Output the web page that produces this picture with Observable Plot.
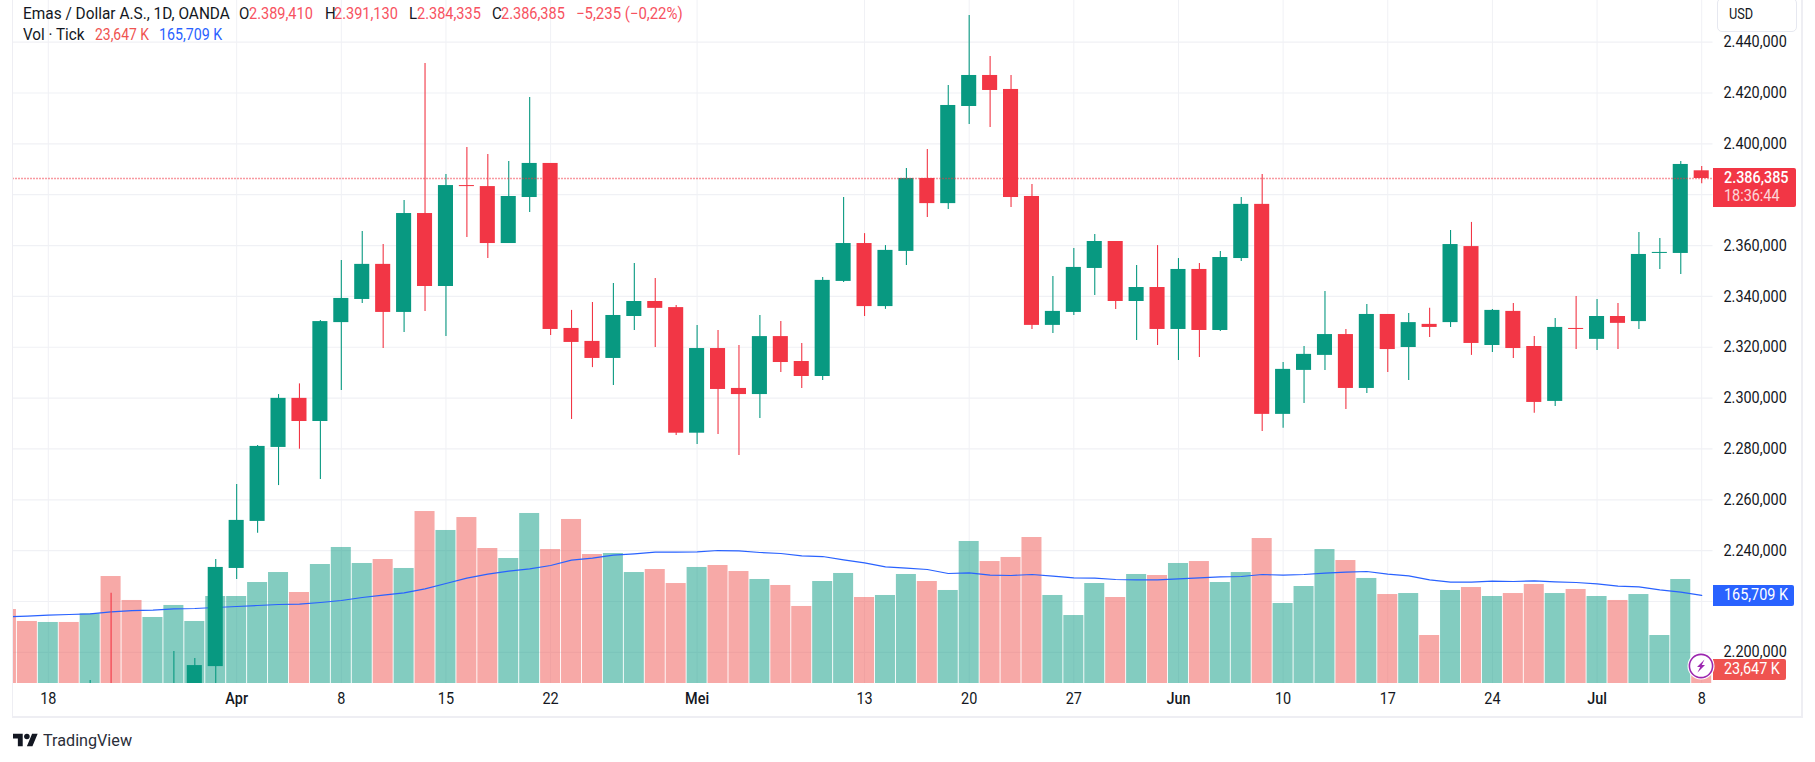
<!DOCTYPE html>
<html>
<head>
<meta charset="utf-8">
<script src="https://cdn.jsdelivr.net/npm/d3@7"></script>
<script src="https://cdn.jsdelivr.net/npm/@observablehq/plot@0.6"></script>
<style>
html,body{margin:0;padding:0;background:#fff;}
#wrap{position:relative;width:1815px;height:762px;overflow:hidden;font-family:Roboto,sans-serif;color:#131722;}
#wrap svg{display:block;}
.o{position:absolute;white-space:nowrap;line-height:1;transform-origin:left center;}
.hd{font-size:15.8px;}
.tag{position:absolute;left:1712.5px;color:#fff;font-size:16px;border-radius:0 2px 2px 0;}
.tag span{position:absolute;white-space:nowrap;line-height:1;transform:scaleX(.9);transform-origin:left center;}
</style>
</head>
<body>
<div id="wrap"></div>
<script>
// Trading-day index 0 is 18 March; the candle arrays start at index 2.
const firstCandle = 2;
const open = [2159,2186.2,2181,2165,2172,2178,2194.4,2233,2251.5,2280.6,2299.9,2290.8,2329.7,2338.8,2352.6,2333.7,2372.6,2343.9,2383.6,2383.2,2360.8,2378.9,2392.3,2327.4,2322.3,2315.6,2332.1,2338,2335.6,2286.2,2319.5,2303.8,2301.4,2324.2,2314.4,2308.5,2345.9,2360.8,2336,2357.7,2386.4,2376.5,2414.7,2426.9,2421.4,2379.3,2328.6,2333.7,2351,2361.6,2338,2343.5,2327,2350.6,2326.6,2354.9,2376.2,2293.6,2310.9,2316.8,2325,2303.8,2332.9,2319.9,2329,2329.7,2359.6,2320.7,2334.1,2320.3,2298.7,2327.4,2323.1,2332.1,2330.1,2356.9,2356.9,2389.41];
const high = [2188.9,2223.2,2184,2181,2200.3,2197.6,2236.5,2266,2281.4,2301.4,2305.6,2330.5,2354.1,2365.5,2360.4,2377.7,2431.6,2388,2398.6,2395.8,2393.1,2418.2,2392.3,2334.5,2337.6,2345.1,2352.9,2347,2336.4,2328.6,2326.6,2320.7,2332.5,2330.1,2321.5,2347.4,2378.9,2364.7,2360,2390.3,2397.8,2423,2450.5,2434.4,2426.9,2384,2347.8,2358.8,2364.4,2361.6,2352.2,2360,2354.9,2352.9,2357.7,2378.9,2388,2314,2320.3,2341.9,2327,2336.8,2332.9,2333.3,2335.3,2365.9,2369.1,2334.9,2337.2,2324.2,2331.3,2340,2338.8,2337.2,2365.1,2362.8,2393.1,2391.13];
const low = [2157,2168,2156,2164,2170,2172,2186,2228.7,2246.8,2265.6,2279.9,2268,2303,2337.2,2319.5,2325.8,2334.1,2324.2,2363.2,2354.9,2360.8,2373,2324.6,2291.6,2312,2305,2326.6,2319.9,2285.3,2281.8,2285.7,2277.4,2292,2310.1,2303.8,2306.9,2345.5,2332.1,2334.9,2352.2,2371,2374.2,2407.6,2406.4,2375,2327,2325.4,2332.5,2340.4,2334.9,2322.7,2320.7,2314.8,2316,2326.2,2353.7,2286.9,2288.1,2297.9,2310.9,2295.5,2301.8,2310.1,2306.9,2323.8,2327.8,2316.8,2317.9,2315.6,2294,2296.7,2319.1,2318.7,2319.1,2327,2350.6,2348.6,2384.335];
const close = [2186,2181.5,2165,2172,2179,2194.8,2233.4,2251.9,2281,2299.9,2290.8,2330.1,2339.2,2352.6,2333.7,2372.6,2343.9,2383.6,2383.2,2360.8,2379.3,2392.3,2327,2321.9,2315.6,2332.5,2338,2335.3,2286.2,2319.5,2303.4,2301.4,2324.2,2314,2308.5,2346.3,2360.8,2336,2358.1,2386.4,2376.5,2415.1,2426.9,2421,2378.9,2328.6,2334.1,2351.4,2361.6,2338,2343.5,2327,2350.6,2326.6,2355.3,2376.2,2293.6,2311.3,2317.2,2325,2303.8,2332.9,2319.1,2329.7,2327.8,2360.4,2321.5,2334.5,2319.5,2298.3,2327.8,2327,2332.1,2329.4,2356.5,2357.3,2391.9,2386.385];

// Volume in thousands of ticks; index starts two sessions before 18 March.
const firstVolume = -2;
const volume = [139.2,116.7,114.8,114.8,131.1,201.3,156.2,124.2,146.8,116.7,163.7,163.7,190,208.8,171.2,223.9,255.9,225.8,233.3,216.4,323.6,287.9,312.3,254,235.2,319.9,252.1,308.6,242.7,244.6,208.8,214.5,188.1,218.3,222,210.7,195.7,184.4,144.9,191.9,207,161.8,165.6,205.1,191.9,175,267.2,229.5,237.1,274.7,165.6,127.9,188.1,161.8,205.1,203.2,225.8,229.5,190,208.8,272.8,150.5,182.5,252.1,231.4,197.6,167.4,169.3,90.3,175,180.6,163.7,169.3,186.3,169.3,176.9,163.7,156.2,167.4,90.3,195.7,23.647];
const volumeMA = [125.4,126.7,128.6,129.8,131.1,134.8,137.3,138,140.5,141.1,143,144.9,146.8,148.6,149.3,152.4,156.2,161.8,166.2,170.6,178.1,188.1,198.2,205.7,211.3,215.7,222,232,235.8,241.5,244,247.1,247.1,247.7,250.2,249.6,246.5,244.6,240.2,238.9,232.7,227,219.5,217,214.5,207,208.2,203.8,203.2,205.1,201.9,198.8,198.2,195.7,195.1,195.1,196.9,198.8,200.7,201.3,205.1,203.8,205.1,207.6,209.5,210.7,205.7,202.6,195.1,190.7,190.7,192.6,191.9,193.2,191.3,190,187.5,183.1,181.9,176.2,171.8,165.709];
const earlyVolumeUp = [false,false,true,false];

const priceTicks = [2200,2220,2240,2260,2280,2300,2320,2340,2360,2380,2400,2420,2440];
const hiddenPriceLabels = [2220,2380]; // covered by the value tags in the reference
const dayTicks = [0,14,19,24,39,44,49,59,64,69,79];
const dayLabels = ["18","8","15","22","13","20","27","10","17","24","8"];
const monthTicks = [9,31,54,74];
const monthLabels = ["Apr","Mei","Jun","Jul"];

const UP = "#089981", DOWN = "#F23645", MA = "#2962FF", VOL_DOWN = "#EF5350";
const GRID = "#f0f1f5";
const lastPrice = 2386.385, lastVolume = 23.647, lastMA = 165.709;

const priceDomain = [2187.75, 2456.39];
const volumeToPrice = v => priceDomain[0] + v * 0.20904; // volume pane shares the frame's lower band

const candles = open.map((o,k)=>({i:k+firstCandle,o,h:high[k],l:low[k],c:close[k],up:close[k]>=o}));
const volRows = volume.map((v,k)=>{
  const i = k+firstVolume;
  const up = i<firstCandle ? earlyVolumeUp[k] : candles[i-firstCandle].up;
  return {i,v,ma:volumeMA[k],up};
});
const fr = d3.formatLocale({decimal:",",thousands:".",grouping:[3]}).format(",.3f");

const volMark = (rows,fill)=>Plot.rect(rows,{x1:d=>d.i-0.478,x2:d=>d.i+0.478,y1:()=>priceDomain[0],y2:d=>volumeToPrice(d.v),fill,fillOpacity:0.5,clip:true});
const wick = (rows,stroke)=>Plot.ruleX(rows,{x:"i",y1:"l",y2:"h",stroke,strokeWidth:1.1,clip:true});
const body = (rows,fill)=>Plot.rect(rows,{x1:d=>d.i-0.36,x2:d=>d.i+0.36,y1:"o",y2:"c",fill,clip:true});

const chart = Plot.plot({
  width:1815,height:762,
  marginLeft:12.5,marginRight:102.5,marginTop:0,marginBottom:79,
  style:{fontFamily:"Roboto,sans-serif",fontSize:"16px",color:"#131722",background:"#fff"},
  x:{type:"linear",domain:[-1.687,79.54]},
  y:{type:"linear",domain:priceDomain},
  marks:[
    Plot.gridX([...dayTicks,...monthTicks],{stroke:GRID,strokeOpacity:1}),
    Plot.gridY(priceTicks,{stroke:GRID,strokeOpacity:1,strokeWidth:1.2}),
    volMark(volRows.filter(d=>d.up),UP),
    volMark(volRows.filter(d=>!d.up),VOL_DOWN),
    Plot.lineY(volRows,{x:"i",y:d=>volumeToPrice(d.ma),stroke:MA,strokeWidth:1.2,clip:true}),
    wick(candles.filter(d=>d.up),UP),
    wick(candles.filter(d=>!d.up),DOWN),
    body(candles.filter(d=>d.up),UP),
    body(candles.filter(d=>!d.up),DOWN),
    Plot.ruleY([lastPrice],{stroke:DOWN,strokeWidth:1.5,strokeDasharray:"1 2"}),
    Plot.axisY({anchor:"right",ticks:priceTicks.filter(t=>!hiddenPriceLabels.includes(t)),tickSize:0,tickPadding:10.5,tickFormat:fr,label:null,fontSize:16,fill:"#131722"}),
    Plot.axisX({ticks:dayTicks,tickSize:0,tickPadding:9,label:null,fontSize:16,fill:"#131722",tickFormat:d=>dayLabels[dayTicks.indexOf(d)]}),
    Plot.axisX({ticks:monthTicks,tickSize:0,tickPadding:9,label:null,fontSize:16,fontWeight:500,fill:"#131722",tickFormat:d=>monthLabels[monthTicks.indexOf(d)]})
  ]
});
const wrap = document.getElementById("wrap");
wrap.appendChild(chart);
const yS = v => chart.scale("y").apply(v);
// The reference's interface font is narrower than Roboto: condense the axis labels to its widths.
chart.querySelectorAll('g[aria-label$="tick label"] text').forEach(t=>{
  t.setAttribute("lengthAdjust","spacingAndGlyphs");
  t.setAttribute("textLength",(t.getComputedTextLength()*0.9).toFixed(1));
});

function add(html){const t=document.createElement("div");t.innerHTML=html;const e=t.firstElementChild;wrap.appendChild(e);return e;}
// Header
const red="#F7525F", ink="#131722";
[["Emas / Dollar A.S., 1D, OANDA",23,ink,.975],["O",239,ink,.95],["2.389,410",248.7,red,.92],["H",324.5,ink,.95],["2.391,130",334,red,.92],["L",409,ink,.95],["2.384,335",416.5,red,.92],["C",492,ink,.95],["2.386,385",501,red,.92],["−5,235 (−0,22%)",576,red,.945]]
  .forEach(([s,x,c,k])=>add(`<div class="o hd" style="left:${x}px;top:6px;color:${c};transform:scaleX(${k})">${s}</div>`));
[["Vol · Tick",23,ink,.965],["23,647 K",94.6,VOL_DOWN,.88],["165,709 K",159,MA,.9]]
  .forEach(([s,x,c,k])=>add(`<div class="o hd" style="left:${x}px;top:27px;color:${c};transform:scaleX(${k})">${s}</div>`));
// Frame
add(`<div class="o" style="left:12px;top:0;width:1788px;height:716px;border-left:1px solid #eeeef3;border-right:2px solid #eeeef3;border-bottom:2px solid #eeeef3"></div>`);
// USD box
add(`<div class="o" style="left:1715px;top:0;width:84px;height:35px;background:#fff"></div>`);
add(`<div class="o" style="left:1717px;top:-2px;width:78px;height:32px;background:#fff;border:1px solid #e6e8f0;border-radius:5px;box-sizing:content-box"></div>`);
add(`<div class="o" style="left:1728.6px;top:7px;font-size:15px;transform:scaleX(.85)">USD</div>`);
// Price tag
const py=yS(lastPrice);
add(`<div class="tag" style="top:${py-10}px;width:83.5px;height:39px;background:${DOWN}"><span style="left:11.5px;top:2px;font-weight:500">${fr(lastPrice)}</span><span style="left:11.5px;top:20px;color:#fff;opacity:.8">18:36:44</span></div>`);
// Volume-average and volume tags
const my=yS(volumeToPrice(lastMA));
add(`<div class="tag" style="top:${my-10}px;width:81px;height:21px;background:${MA}"><span style="left:11.5px;top:2.5px">165,709 K</span></div>`);
const vy=yS(volumeToPrice(lastVolume));
add(`<div class="tag" style="top:${vy-11}px;width:73.5px;height:21px;background:${VOL_DOWN}"><span style="left:11.5px;top:2px">23,647 K</span></div>`);
// Lightning icon
add(`<svg class="o" style="left:1687px;top:652px" width="28" height="28" viewBox="0 0 28 28"><circle cx="14" cy="14" r="13.5" fill="#fff"/><circle cx="14" cy="14" r="11.6" fill="#fff" stroke="#9C27B0" stroke-width="1.6"/><path d="M17.5 7.5 L10 15 H13.2 L10.5 20.5 L18 13 H14.8 Z" fill="#9C27B0"/></svg>`);
// Logo
add(`<svg class="o" style="left:12.5px;top:732px" width="25" height="16" viewBox="0 3 36 20"><path d="M14 22H7V11H0V4h14v18zM28 22h-8l7.5-18h8L28 22z" fill="#131722"/><circle cx="20" cy="8" r="4" fill="#131722"/></svg>`);
add(`<div class="o" style="left:42.5px;top:732.5px;font-size:16.5px;color:#2a2e39;transform:scaleX(.98)">TradingView</div>`);
</script>
</body>
</html>
